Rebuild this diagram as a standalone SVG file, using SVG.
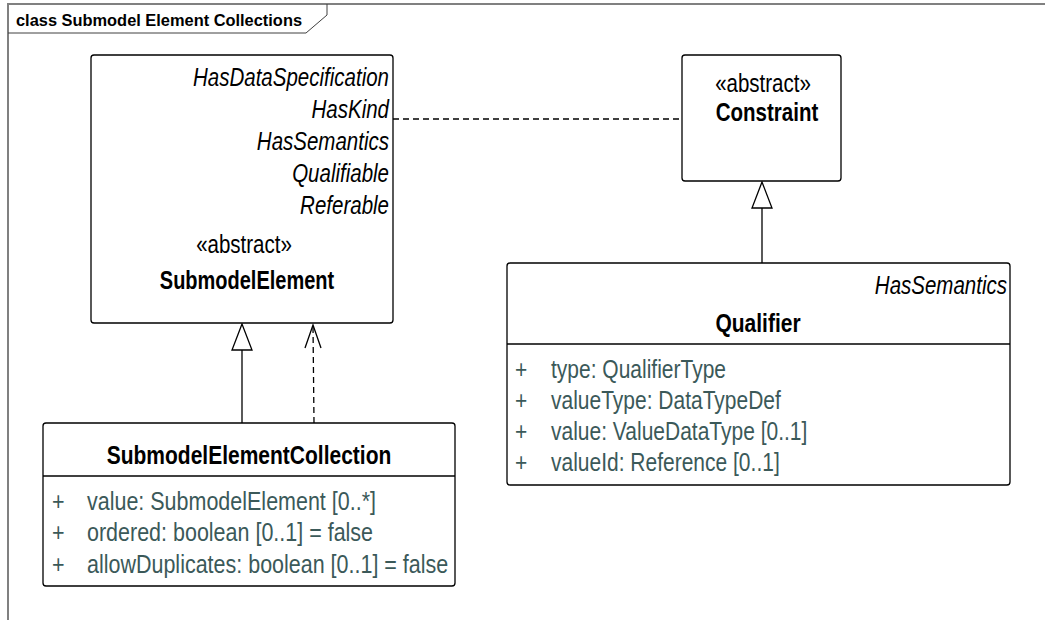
<svg xmlns="http://www.w3.org/2000/svg" width="1045" height="620" viewBox="0 0 1045 620">
<style>
.box{fill:#fff;stroke:#000;stroke-width:1.3}
.sep{stroke:#000;stroke-width:1.3}
text{font-family:"Liberation Sans",Arial,sans-serif;font-size:25px}
.it{font-style:italic;fill:#000;text-anchor:end}
.st{fill:#000;text-anchor:middle}
.nm{font-weight:bold;fill:#000;text-anchor:middle}
.at{fill:#3b5959}
.line{fill:none;stroke:#000;stroke-width:1.3}
.dash{fill:none;stroke:#000;stroke-width:1.3;stroke-dasharray:6 4}
.tri{fill:#fff;stroke:#000;stroke-width:1.3}
</style>
<rect width="1045" height="620" fill="#fff"/>
<g id="frame">
<path d="M8 620 V4 H1045" fill="none" stroke="#808080" stroke-width="2"/>
<path d="M8 33 H306 L327 15 V4" fill="none" stroke="#404040" stroke-width="1"/>
<text x="16" y="26" font-weight="bold" style="font-size:16.4px" fill="#000">class Submodel Element Collections</text>
</g>
<g id="connectors">
<path class="dash" d="M393 119 H682" stroke-dasharray="5 4"/>
<path class="line" d="M242 423 V350"/>
<path class="tri" d="M242 324 L232 350 H252 Z"/>
<path class="dash" d="M314 423 L313 326"/>
<path class="line" d="M305 348 L313 325 L321 348"/>
<path class="line" d="M762 263 V208"/>
<path class="tri" d="M762 182 L752 208 H772 Z"/>
</g>
<g id="SubmodelElement">
<rect class="box" x="91" y="55" width="302" height="268" rx="3"/>
<text class="it" transform="translate(389 86) scale(0.82 1)">HasDataSpecification</text>
<text class="it" transform="translate(389 118) scale(0.82 1)">HasKind</text>
<text class="it" transform="translate(389 150) scale(0.82 1)">HasSemantics</text>
<text class="it" transform="translate(389 182) scale(0.82 1)">Qualifiable</text>
<text class="it" transform="translate(389 214) scale(0.82 1)">Referable</text>
<text class="st" transform="translate(244 253) scale(0.82 1)">«abstract»</text>
<text class="nm" transform="translate(247 289) scale(0.8 1)">SubmodelElement</text>
</g>
<g id="Constraint">
<rect class="box" x="682" y="55" width="159" height="126" rx="3"/>
<text class="st" transform="translate(763 92) scale(0.82 1)">«abstract»</text>
<text class="nm" transform="translate(767 121) scale(0.82 1)">Constraint</text>
</g>
<g id="Qualifier">
<rect class="box" x="507" y="263" width="503" height="222" rx="3"/>
<line class="sep" x1="507" y1="344" x2="1010" y2="344"/>
<text class="it" transform="translate(1007 294) scale(0.82 1)">HasSemantics</text>
<text class="nm" transform="translate(758 332) scale(0.84 1)">Qualifier</text>
<text class="at" transform="translate(515 378) scale(0.84 1)">+</text><text class="at" transform="translate(551 378) scale(0.84 1)">type: QualifierType</text>
<text class="at" transform="translate(515 409) scale(0.84 1)">+</text><text class="at" transform="translate(551 409) scale(0.84 1)">valueType: DataTypeDef</text>
<text class="at" transform="translate(515 440) scale(0.84 1)">+</text><text class="at" transform="translate(551 440) scale(0.84 1)">value: ValueDataType [0..1]</text>
<text class="at" transform="translate(515 471) scale(0.84 1)">+</text><text class="at" transform="translate(551 471) scale(0.84 1)">valueId: Reference [0..1]</text>
</g>
<g id="SubmodelElementCollection">
<rect class="box" x="43" y="423" width="412" height="163" rx="3"/>
<line class="sep" x1="43" y1="476" x2="455" y2="476"/>
<text class="nm" transform="translate(249 464) scale(0.84 1)">SubmodelElementCollection</text>
<text class="at" transform="translate(52 510) scale(0.86 1)">+</text><text class="at" transform="translate(87 510) scale(0.86 1)">value: SubmodelElement [0..*]</text>
<text class="at" transform="translate(52 541) scale(0.86 1)">+</text><text class="at" transform="translate(87 541) scale(0.86 1)">ordered: boolean [0..1] = false</text>
<text class="at" transform="translate(52 573) scale(0.86 1)">+</text><text class="at" transform="translate(87 573) scale(0.86 1)">allowDuplicates: boolean [0..1] = false</text>
</g>
</svg>
